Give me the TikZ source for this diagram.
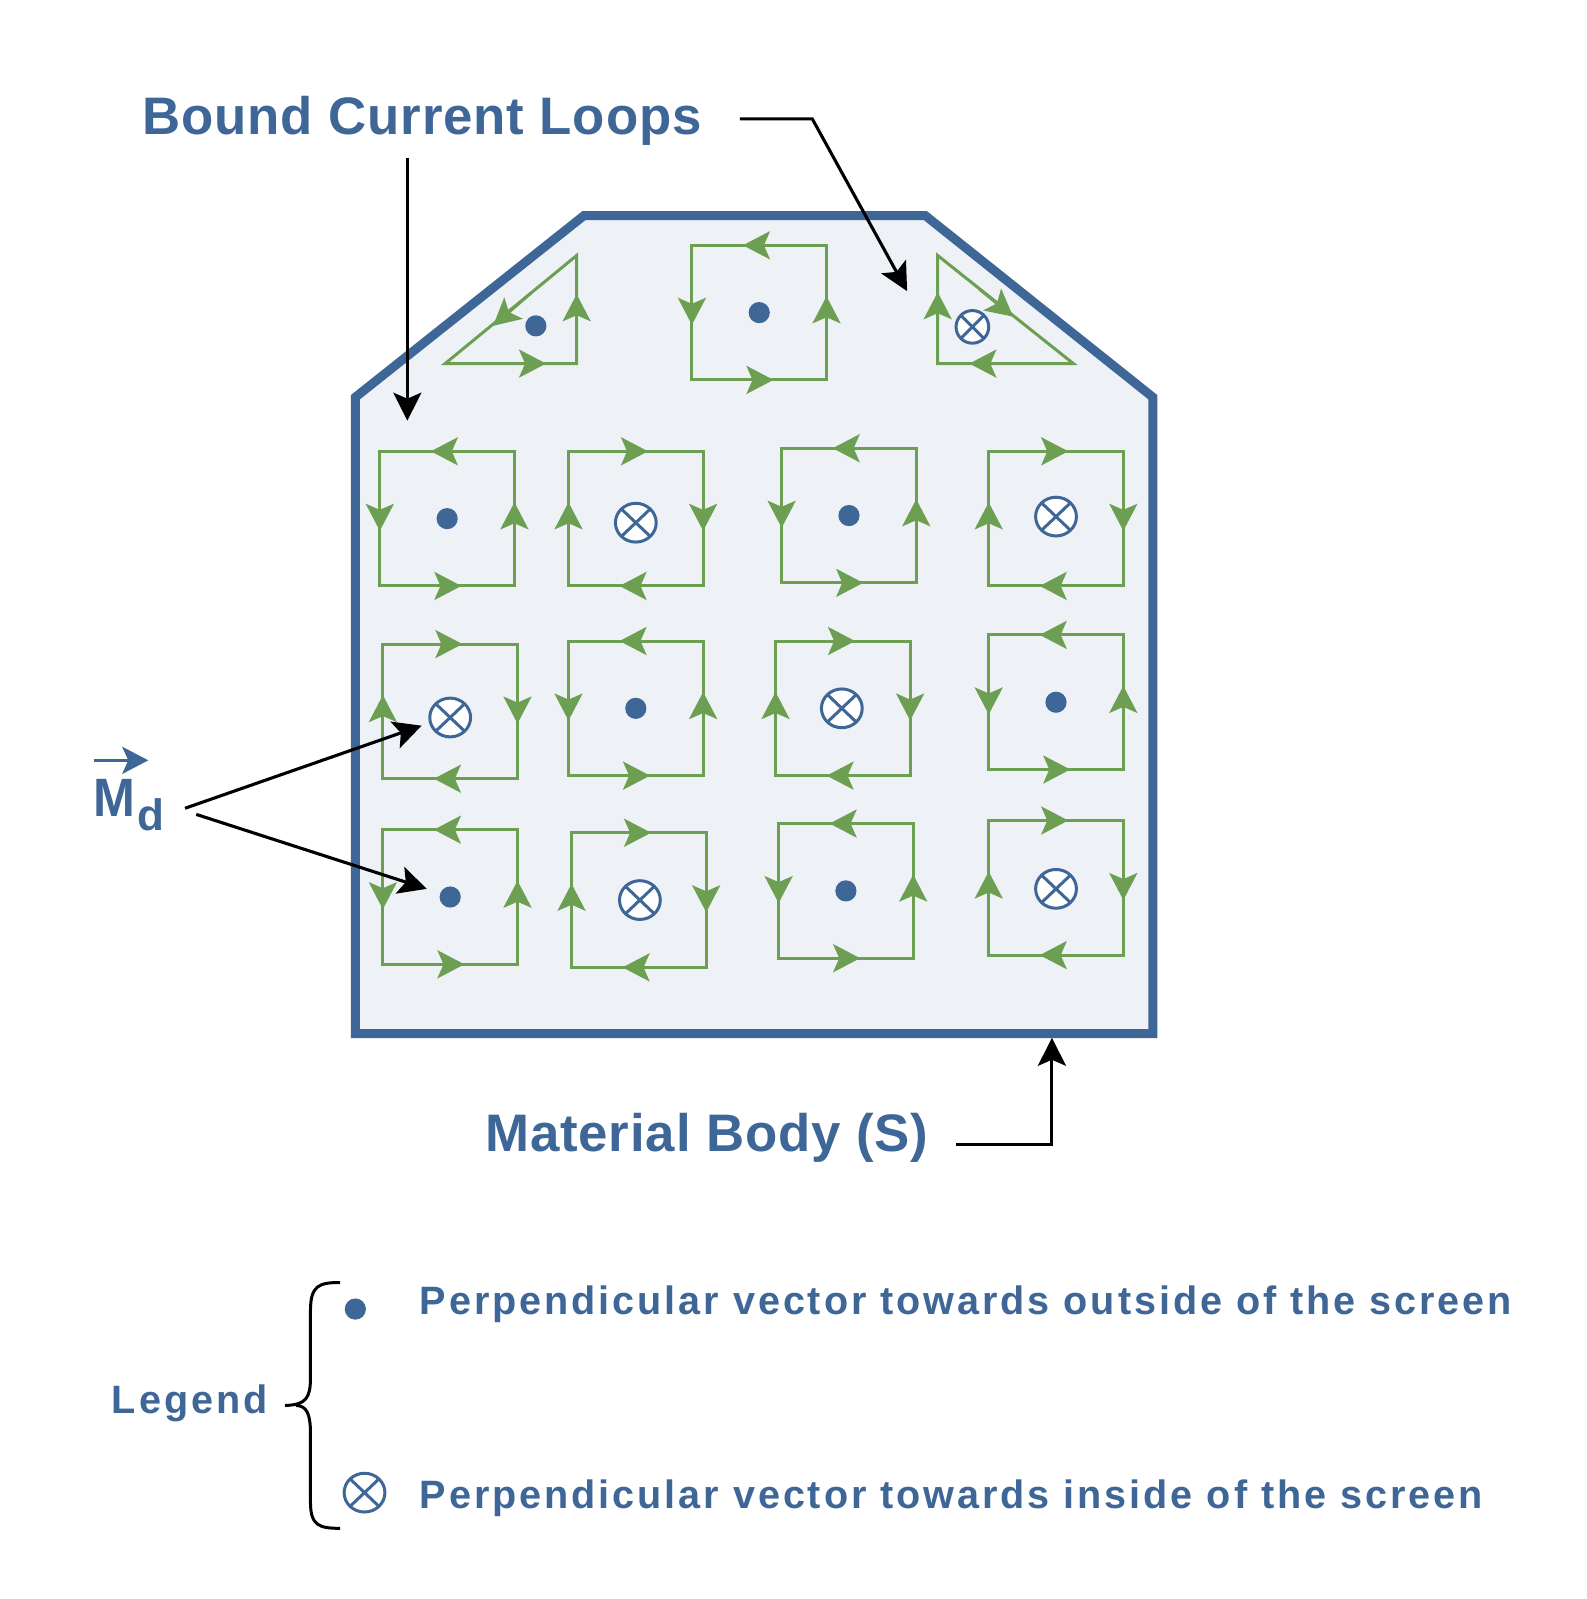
\documentclass[tikz,border=0pt]{standalone}
\usepackage{fontspec}
\setmainfont{Liberation Sans}
\usetikzlibrary{arrows.meta,calc}
\definecolor{bodyblue}{HTML}{3E6696}
\definecolor{bodyfill}{HTML}{EEF2F7}
\definecolor{loopgreen}{HTML}{6D9F52}
\tikzset{
  bodyshape/.style={draw=bodyblue,fill=bodyfill,line width=4.5pt,miter limit=10},
  greenline/.style={draw=loopgreen,line width=1.5pt},
  greenarrow/.style={draw=loopgreen,line width=1.5pt,-{Stealth[length=13.5pt,width=14pt,inset=3pt,fill=loopgreen]}},
  blackarrow/.style={draw=black,line width=1.55pt,-{Stealth[length=14pt,width=14pt,inset=3pt,fill=black]}},
  bigtext/.style={anchor=base west,inner sep=0pt,text=bodyblue,font=\fontsize{26.4pt}{30pt}\bfseries\addfontfeatures{LetterSpace=1.6}},
  smalltext/.style={anchor=base west,inner sep=0pt,text=bodyblue,font=\fontsize{19.8pt}{24pt}\bfseries\addfontfeatures{LetterSpace=7.4}},
  dotmark/.style={circle,fill=bodyblue,inner sep=0pt,minimum size=10.6pt},
}
% square loop: #1 x, #2 y (top left), #3 = 1 counter-clockwise (top goes left), -1 clockwise
\newcommand{\squareloop}[3]{%
  \draw[greenline] (#1,#2) rectangle ++(132,132);
  \pgfmathsetmacro{\dd}{#3}
  \pgfmathsetmacro{\tl}{\dd>0?16:12}
  \pgfmathsetmacro{\tr}{\dd>0?14:16}
  \pgfmathsetmacro{\td}{\dd>0?12:16}
  \draw[greenarrow] ({#1+66+\dd*24},#2) -- ({#1+66-\dd*\tl},#2);
  \draw[greenarrow] ({#1+66-\dd*24},#2+132) -- ({#1+66+\dd*\tr},#2+132);
  \draw[greenarrow] (#1,{#2+66-\dd*24}) -- (#1,{#2+66+\dd*\td});
  \draw[greenarrow] (#1+132,{#2+66+\dd*24}) -- (#1+132,{#2+66-\dd*\tl});
}
% cross mark: #1 name, #2 centre, #3 rx, #4 ry
\newcommand{\crossmark}[4]{%
  \coordinate (#1) at #2;
  \draw[bodyblue,line width=1.5pt,fill=white] (#1) ellipse [x radius=#3,y radius=#4];
  \draw[bodyblue,line width=1.5pt] ($(#1)+({#3*0.707},{#4*0.707})$) -- ($(#1)-({#3*0.707},{#4*0.707})$);
  \draw[bodyblue,line width=1.5pt] ($(#1)+({#3*0.707},{-#4*0.707})$) -- ($(#1)-({#3*0.707},{-#4*0.707})$);
}
\begin{document}
\begin{tikzpicture}[x=0.51pt,y=-0.51pt]
\useasboundingbox (-0.4,-0.5) rectangle (1555.6,1567.3);
\draw[bodyshape] (348,389) -- (572,211) -- (907,211) -- (1130,389) -- (1130,1013) -- (348,1013) -- cycle;
% triangles
\draw[greenline,line join=miter] (565,250) -- (565,356) -- (436,356) -- cycle;
\draw[greenarrow] (490,356) -- (535,356);
\draw[greenarrow] (565,330) -- (565,288);
\draw[greenarrow] (520,287) -- (483,319);
\draw[greenline,line join=miter] (919,250) -- (919,356) -- (1052,356) -- cycle;
\draw[greenarrow] (919,330) -- (919,286);
\draw[greenarrow] (960,283) -- (993,310);
\draw[greenarrow] (990,356) -- (950,356);
% squares
\squareloop{678}{240}{1}
\squareloop{372}{442}{1}
\squareloop{557}{442}{-1}
\squareloop{766}{439}{1}
\squareloop{969}{442}{-1}
\squareloop{375}{631}{-1}
\squareloop{557}{628}{1}
\squareloop{760}{628}{-1}
\squareloop{969}{622}{1}
\squareloop{375}{813}{1}
\squareloop{560}{816}{-1}
\squareloop{763}{807}{1}
\squareloop{969}{804}{-1}
% marks
\node[dotmark] (d0) at (525,319) {};
\node[dotmark] (d1) at (744,306) {};
\node[dotmark] (d2) at (438,508) {};
\node[dotmark] (d3) at (832,505) {};
\node[dotmark] (d4) at (623,694) {};
\node[dotmark] (d5) at (1035,688) {};
\node[dotmark] (d6) at (441,879) {};
\node[dotmark] (d7) at (829,873) {};
\crossmark{c0}{(953,320)}{16}{16}
\crossmark{c1}{(623,512)}{20}{19}
\crossmark{c2}{(1035,506)}{20}{19}
\crossmark{c3}{(441,703)}{20}{19}
\crossmark{c4}{(825,694)}{20}{19}
\crossmark{c5}{(627,882)}{20}{19}
\crossmark{c6}{(1035,871)}{20}{19}
% labels
\node[bigtext] (bound) at (139,131) {Bound Current Loops};
\node[bigtext] (material) at (475,1129) {Material Body (S)};
\node[smalltext] (legout) at (411,1288) {Perpendicular vector towards outside of the screen};
\node[smalltext] (legin) at (411,1479) {Perpendicular vector towards inside of the screen};
\node[smalltext] (legend) at (109,1385) {Legend};
\node[anchor=base west,inner sep=0pt,text=bodyblue,font=\bfseries] (md) at (91,800) {\fontsize{27pt}{30pt}\selectfont\scalebox{0.93}[1]{M}\hspace{1pt}\raisebox{-7pt}{\fontsize{22pt}{24pt}\selectfont d}};
\coordinate (mda) at (92,745);
\coordinate (mdb) at (145,745);
\draw[draw=bodyblue,line width=1.5pt,-{Stealth[length=13pt,width=13.5pt,inset=3pt,fill=bodyblue]}] (mda) -- (mdb);
% arrows
\coordinate (b1) at (725,116); \coordinate (b2) at (796,116); \coordinate (b3) at (889,285);
\draw[blackarrow] (b1) -- (b2) -- (b3);
\coordinate (b4) at (399,154); \coordinate (b5) at (399,412);
\draw[blackarrow] (b4) -- (b5);
\coordinate (m1) at (181,792); \coordinate (m2) at (413,711);
\draw[blackarrow] (m1) -- (m2);
\coordinate (m3) at (192,798); \coordinate (m4) at (418,871);
\draw[blackarrow] (m3) -- (m4);
\coordinate (s1) at (937,1122); \coordinate (s2) at (1031,1122); \coordinate (s3) at (1031,1017);
\draw[blackarrow] (s1) -- (s2) -- (s3);
% legend
\draw[black,line width=1.5pt] (333,1257) .. controls (312,1257) and (304,1260) .. (304,1285) -- (304,1350) .. controls (304,1370) and (300,1377) .. (279,1377.5) (290,1377.5) .. controls (300,1378) and (304,1385) .. (304,1405) -- (304,1472) .. controls (304,1495) and (312,1498) .. (333,1498);
\node[dotmark] (ld) at (348,1283) {};
\crossmark{lc}{(357,1463)}{20}{19}
\end{tikzpicture}
\end{document}
